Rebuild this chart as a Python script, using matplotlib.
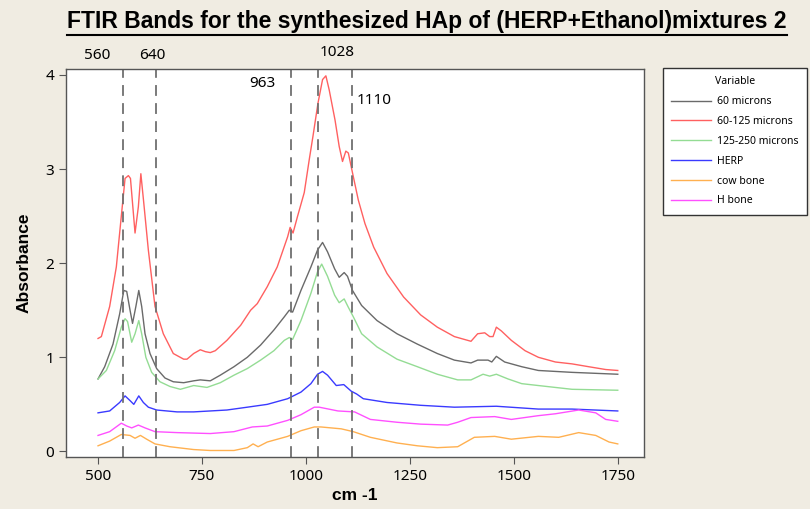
import matplotlib
matplotlib.use('Agg')
import matplotlib.pyplot as plt
from matplotlib.lines import Line2D

plt.rcParams['font.family'] = ['Noto Sans', 'DejaVu Sans']
bold_font = ['Liberation Sans', 'DejaVu Sans']

# wavenumber (cm-1) / absorbance
x_60 = [500, 516, 536, 552, 562, 569, 577, 583, 591, 598, 605, 613, 625, 641, 661, 681, 706, 730, 746, 770,
        794, 827, 859, 891, 923, 948, 960, 968, 988, 1012, 1028, 1040, 1052, 1069, 1080, 1092, 1100, 1112,
        1134, 1171, 1219, 1268, 1316, 1357, 1397, 1413, 1438, 1447, 1458, 1478, 1519, 1559, 1640, 1750]
y_60 = [0.77, 0.90, 1.14, 1.46, 1.71, 1.70, 1.50, 1.36, 1.54, 1.71, 1.54, 1.25, 1.04, 0.88, 0.78, 0.74, 0.73,
        0.75, 0.76, 0.75, 0.81, 0.90, 1.00, 1.13, 1.29, 1.43, 1.50, 1.48, 1.71, 1.96, 2.14, 2.22, 2.12, 1.94,
        1.85, 1.90, 1.86, 1.71, 1.55, 1.39, 1.25, 1.14, 1.04, 0.97, 0.94, 0.97, 0.97, 0.95, 1.01, 0.95, 0.90,
        0.86, 0.84, 0.82]

x_60_125 = [500, 508, 528, 544, 556, 565, 573, 578, 589, 597, 603, 610, 621, 637, 657, 681, 706, 714, 730, 746,
            758, 770, 782, 810, 843, 867, 883, 907, 931, 956, 962, 969, 980, 996, 1008, 1017, 1029, 1040, 1048,
            1056, 1070, 1080, 1088, 1096, 1102, 1112, 1126, 1142, 1163, 1195, 1235, 1276, 1316, 1357, 1397,
            1413, 1430, 1442, 1450, 1458, 1470, 1494, 1527, 1559, 1600, 1640, 1680, 1721, 1750]
y_60_125 = [1.20, 1.22, 1.54, 1.96, 2.50, 2.90, 2.93, 2.90, 2.32, 2.60, 2.95, 2.64, 2.14, 1.54, 1.25, 1.04,
            0.98, 0.98, 1.04, 1.08, 1.06, 1.05, 1.07, 1.18, 1.34, 1.50, 1.57, 1.75, 1.96, 2.28, 2.38, 2.32,
            2.50, 2.75, 3.10, 3.35, 3.70, 3.95, 3.99, 3.84, 3.52, 3.24, 3.08, 3.19, 3.17, 2.96, 2.67, 2.42,
            2.17, 1.89, 1.64, 1.45, 1.32, 1.22, 1.17, 1.25, 1.26, 1.22, 1.22, 1.32, 1.28, 1.18, 1.07, 1.00,
            0.95, 0.93, 0.90, 0.87, 0.86]

x_125_250 = [500, 520, 540, 556, 565, 571, 581, 589, 598, 605, 615, 629, 649, 673, 698, 714, 730, 762, 794, 827,
             859, 891, 923, 948, 960, 968, 988, 1012, 1028, 1038, 1052, 1069, 1080, 1092, 1101, 1114, 1134,
             1171, 1219, 1268, 1316, 1365, 1397, 1426, 1442, 1458, 1486, 1519, 1559, 1640, 1750]
y_125_250 = [0.77, 0.86, 1.07, 1.32, 1.41, 1.38, 1.16, 1.25, 1.39, 1.25, 1.00, 0.84, 0.74, 0.69, 0.66, 0.68,
             0.70, 0.68, 0.73, 0.81, 0.88, 0.97, 1.07, 1.18, 1.21, 1.19, 1.39, 1.68, 1.91, 1.99, 1.86, 1.66,
             1.58, 1.62, 1.54, 1.43, 1.25, 1.11, 0.98, 0.90, 0.82, 0.76, 0.76, 0.82, 0.80, 0.82, 0.77, 0.72,
             0.70, 0.66, 0.65]

x_herp = [500, 528, 552, 565, 577, 586, 598, 609, 621, 641, 690, 730, 770, 810, 859, 907, 956, 988, 1012, 1028,
          1040, 1052, 1073, 1091, 1109, 1122, 1138, 1195, 1276, 1357, 1458, 1559, 1640, 1750]
y_herp = [0.41, 0.43, 0.52, 0.59, 0.54, 0.50, 0.59, 0.52, 0.47, 0.44, 0.42, 0.42, 0.43, 0.44, 0.47, 0.50, 0.56,
          0.63, 0.72, 0.82, 0.85, 0.81, 0.70, 0.71, 0.64, 0.61, 0.56, 0.52, 0.49, 0.47, 0.48, 0.45, 0.45, 0.43]

x_cow = [500, 528, 556, 577, 589, 602, 617, 637, 673, 730, 770, 827, 859, 873, 885, 907, 956, 988, 1020, 1036,
         1085, 1114, 1155, 1219, 1268, 1316, 1365, 1405, 1454, 1494, 1559, 1608, 1656, 1697, 1729, 1750]
y_cow = [0.06, 0.11, 0.18, 0.17, 0.14, 0.17, 0.13, 0.08, 0.05, 0.02, 0.01, 0.01, 0.04, 0.08, 0.05, 0.10, 0.16,
         0.22, 0.26, 0.26, 0.24, 0.21, 0.15, 0.09, 0.06, 0.04, 0.05, 0.15, 0.16, 0.13, 0.16, 0.15, 0.20, 0.17,
         0.10, 0.08]

x_hbone = [500, 528, 556, 569, 581, 597, 613, 637, 690, 770, 827, 871, 907, 956, 988, 1020, 1032, 1077, 1117,
           1155, 1219, 1276, 1341, 1365, 1397, 1454, 1494, 1559, 1600, 1656, 1697, 1721, 1750]
y_hbone = [0.17, 0.21, 0.30, 0.27, 0.25, 0.28, 0.25, 0.21, 0.20, 0.19, 0.21, 0.26, 0.27, 0.33, 0.39, 0.47, 0.47,
           0.43, 0.42, 0.34, 0.31, 0.29, 0.28, 0.31, 0.36, 0.37, 0.34, 0.38, 0.40, 0.44, 0.41, 0.34, 0.32]

band_positions = [560, 640, 963, 1028, 1110]
band_labels = ['560', '640', '963', '1028', '1110']
band_label_xy = [(498, 4.21), (630, 4.21), (896, 3.91), (1074, 4.24), (1164, 3.73)]

x_ticks = [500, 750, 1000, 1250, 1500, 1750]
y_ticks = [0, 1, 2, 3, 4]

bg = '#f0ece2'
fig = plt.figure(figsize=(8.1, 5.09), dpi=100, facecolor=bg)
ax = fig.add_axes([0.0815, 0.102, 0.713, 0.762])

series = [
    (x_60, y_60, '#6a6a6a', '60 microns'),
    (x_60_125, y_60_125, '#ff6060', '60-125 microns'),
    (x_125_250, y_125_250, '#94dc94', '125-250 microns'),
    (x_herp, y_herp, '#3a3aff', 'HERP'),
    (x_cow, y_cow, '#ffb050', 'cow bone'),
    (x_hbone, y_hbone, '#ff50ff', 'H bone'),
]
for xs, ys, c, lab in series:
    ax.plot(xs, ys, color=c, lw=1.0, label=lab)

for bp in band_positions:
    ax.axvline(bp, color='#707070', lw=1.3, dashes=(6, 4))
for lab, (tx, ty) in zip(band_labels, band_label_xy):
    ax.text(tx, ty, lab, ha='center', va='center', fontsize=11, clip_on=False)

ax.set_xlim(423, 1812)
ax.set_ylim(-0.06, 4.06)
ax.set_xticks(x_ticks)
ax.set_yticks(y_ticks)
ax.tick_params(labelsize=11, length=5, color='#555555', direction='out')
for s in ax.spines.values():
    s.set_color('#555555')
    s.set_linewidth(1.0)

ax.set_xlabel('cm -1', fontsize=12.5, fontweight='bold', family=bold_font, labelpad=3)
ax.set_ylabel('Absorbance', fontsize=12.5, fontweight='bold', family=bold_font, labelpad=10)

leg = fig.legend(loc='upper left', bbox_to_anchor=(663 / 810, 1 - 68 / 509), borderaxespad=0,
                 title='Variable', fontsize=7.5, title_fontsize=7.5, handlelength=3.8, handletextpad=0.6,
                 labelspacing=0.85, fancybox=False, framealpha=1, borderpad=0.8)
leg.get_frame().set_edgecolor('#333333')
leg.get_frame().set_linewidth(1.0)

title = fig.text(0.527, 0.957, 'FTIR Bands for the synthesized HAp of (HERP+Ethanol)mixtures 2',
                 ha='center', va='center', fontsize=16.5, fontweight='bold', family=bold_font)

# underline the title
fig.canvas.draw()
bb = title.get_window_extent().transformed(fig.transFigure.inverted())
fig.add_artist(Line2D([bb.x0, bb.x1], [bb.y0 - 0.004, bb.y0 - 0.004], color='black', lw=1.5,
                      transform=fig.transFigure))

fig.savefig('out.png', dpi=100, facecolor=bg)
